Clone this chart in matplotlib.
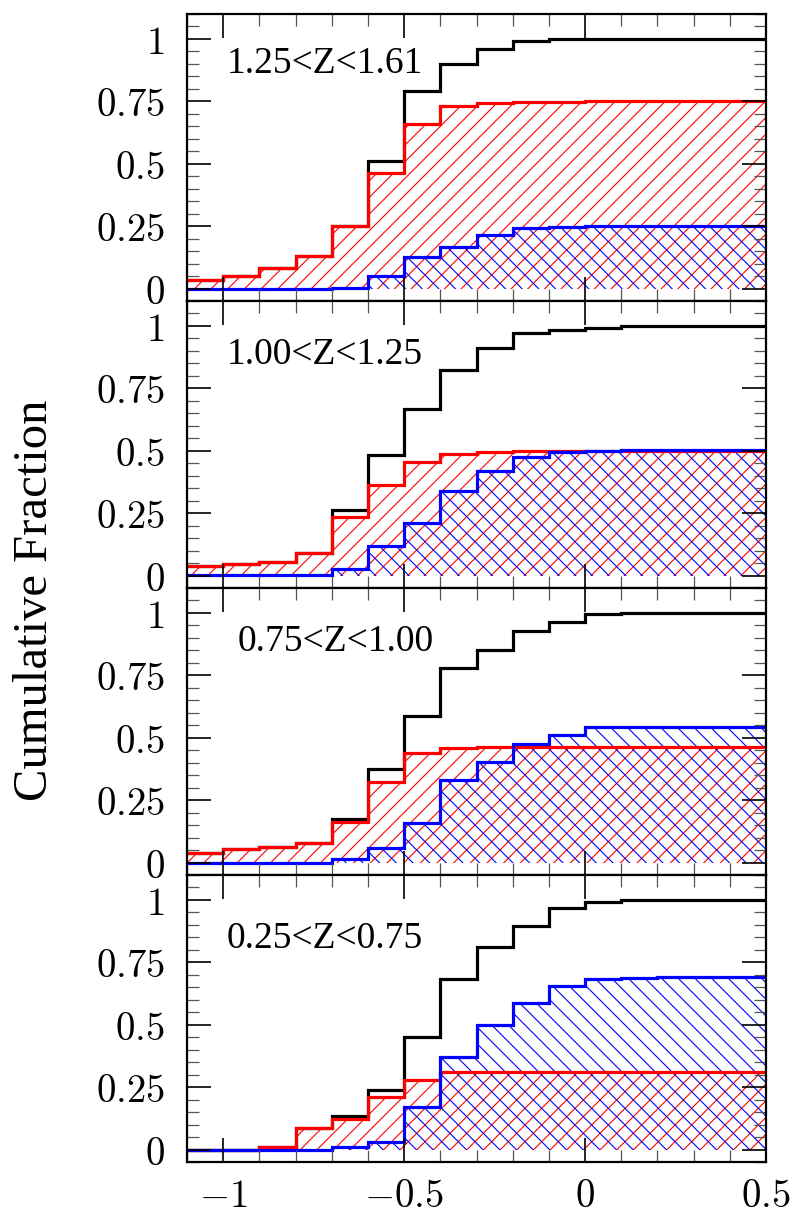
import matplotlib
matplotlib.use("Agg")
import matplotlib.pyplot as plt
import numpy as np
from matplotlib.ticker import MultipleLocator

plt.rcParams['mathtext.fontset'] = 'cm'
plt.rcParams['hatch.linewidth'] = 0.8

# bin edges of the cumulative histograms
edges = [-1.1, -1.0, -0.9, -0.8, -0.7, -0.6, -0.5, -0.4, -0.3, -0.2, -0.1,
         0.0, 0.1, 0.2, 0.3, 0.4, 0.5]

labels = ["1.25<Z<1.61", "1.00<Z<1.25", "0.75<Z<1.00", "0.25<Z<0.75"]

# panel 1 : 1.25<Z<1.61
black1 = [0.035, 0.051, 0.084, 0.132, 0.251, 0.51, 0.79, 0.90, 0.96, 0.99, 1.0, 1.0, 1.0, 1.0, 1.0, 1.0]
red1 = [0.035, 0.051, 0.084, 0.132, 0.251, 0.461, 0.661, 0.731, 0.744, 0.748, 0.749, 0.75, 0.75, 0.75, 0.75, 0.75]
blue1 = [0.0, 0.0, 0.0, 0.0, 0.003, 0.051, 0.128, 0.168, 0.215, 0.244, 0.248, 0.25, 0.25, 0.25, 0.25, 0.25]

# panel 2 : 1.00<Z<1.25
black2 = [0.039, 0.045, 0.056, 0.089, 0.262, 0.483, 0.666, 0.824, 0.913, 0.971, 0.984, 0.993, 1.0, 1.0, 1.0, 1.0]
red2 = [0.039, 0.045, 0.056, 0.089, 0.236, 0.363, 0.454, 0.487, 0.494, 0.497, 0.497, 0.497, 0.497, 0.497, 0.497, 0.497]
blue2 = [0.003, 0.003, 0.003, 0.003, 0.027, 0.12, 0.212, 0.339, 0.419, 0.474, 0.494, 0.5, 0.503, 0.503, 0.503, 0.503]

# panel 3 : 0.75<Z<1.00
black3 = [0.04, 0.053, 0.063, 0.08, 0.176, 0.374, 0.586, 0.78, 0.853, 0.928, 0.964, 0.997, 1.0, 1.0, 1.0, 1.0]
red3 = [0.04, 0.053, 0.063, 0.08, 0.163, 0.322, 0.437, 0.457, 0.461, 0.461, 0.461, 0.461, 0.461, 0.461, 0.461, 0.461]
blue3 = [0.0, 0.0, 0.0, 0.0, 0.013, 0.06, 0.159, 0.33, 0.402, 0.474, 0.513, 0.543, 0.543, 0.543, 0.543, 0.543]

# panel 4 : 0.25<Z<0.75
black4 = [0.0, 0.0, 0.009, 0.088, 0.135, 0.24, 0.45, 0.682, 0.81, 0.897, 0.966, 0.993, 1.0, 1.0, 1.0, 1.0]
red4 = [0.0, 0.0, 0.009, 0.088, 0.123, 0.209, 0.279, 0.31, 0.31, 0.31, 0.31, 0.31, 0.31, 0.31, 0.31, 0.31]
blue4 = [0.0, 0.0, 0.0, 0.0, 0.011, 0.031, 0.172, 0.37, 0.5, 0.587, 0.654, 0.685, 0.688, 0.69, 0.69, 0.69]

blacks = [black1, black2, black3, black4]
reds = [red1, red2, red3, red4]
blues = [blue1, blue2, blue3, blue4]
label_pos = [(-0.99, 0.9), (-0.99, 0.885), (-0.96, 0.885), (-0.99, 0.845)]

fig, axes = plt.subplots(4, 1, figsize=(7.98, 12.15), dpi=100, sharex=True)
fig.subplots_adjust(left=0.2343, right=0.96, top=0.9885, bottom=0.0436, hspace=0)

for i, ax in enumerate(axes):
    # hatched areas
    ax.stairs(reds[i], edges, fill=True, hatch='//', facecolor='none',
              edgecolor='red', linewidth=0, baseline=0)
    ax.stairs(blues[i], edges, fill=True, hatch='\\\\', facecolor='none',
              edgecolor='blue', linewidth=0, baseline=0)
    # step outlines
    ax.stairs(blacks[i], edges, baseline=None, color='black', linewidth=2.3)
    ax.stairs(reds[i], edges, baseline=None, color='red', linewidth=2.3)
    ax.stairs(blues[i], edges, baseline=None, color='blue', linewidth=2.3)

    ax.set_xlim(-1.1, 0.5)
    ax.set_ylim(-0.05, 1.1)
    ax.set_yticks([0, 0.25, 0.5, 0.75, 1],
                  labels=['$0$', '$0.25$', '$0.5$', '$0.75$', '$1$'])
    ax.yaxis.set_minor_locator(MultipleLocator(0.05))
    ax.xaxis.set_minor_locator(MultipleLocator(0.1))
    ax.tick_params(which='both', direction='in', top=True, right=True,
                   labelsize=28)
    ax.tick_params(axis='y', pad=16)
    ax.tick_params(axis='x', pad=11)
    ax.tick_params(which='major', length=17, width=1.2)
    ax.tick_params(which='minor', length=8.5, width=0.9, color='#555555')
    for s in ax.spines.values():
        s.set_linewidth(1.6)

    ax.text(label_pos[i][0], label_pos[i][1], labels[i], fontsize=27,
            family='Liberation Serif', va='center', ha='left')

axes[-1].set_xticks([-1, -0.5, 0, 0.5], labels=['$-1$', '$-0.5$', '$0$', '$0.5$'])

fig.text(0.044, 0.506, "Cumulative Fraction", rotation=90, va='center', ha='center',
         fontsize=35, family='Liberation Serif')

fig.savefig("out.png", dpi=100)
